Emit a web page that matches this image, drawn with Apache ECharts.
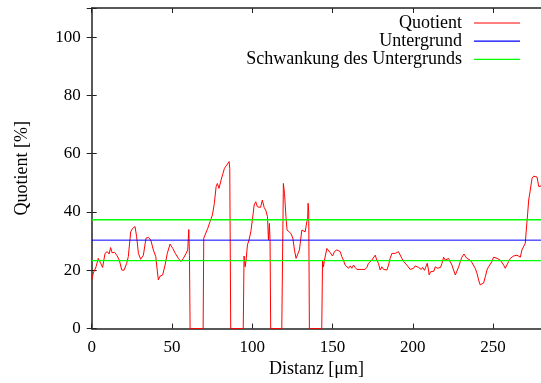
<!DOCTYPE html>
<html>
<head>
<meta charset="utf-8">
<script src="https://cdn.jsdelivr.net/npm/echarts@6/dist/echarts.min.js"></script>
<style>html,body{margin:0;padding:0;background:#fff;}#c{width:541px;height:383px;}</style>
</head>
<body>
<div id="c"></div>
<script>
// Quotient curve (distance in µm, quotient in %)
const distance = [0,1.0,2.7,4.1,5.6,6.8,8.3,9.7,10.8,11.8,12.7,14.2,15.6,17.2,18.7,20.1,21.8,22.8,24.3,25.5,27.0,28.0,29.1,30.5,32.2,33.8,35.3,36.8,38.4,39.9,41.5,42.6,44.2,45.7,47.1,48.8,50.5,52.1,54.0,55.5,57.1,58.8,59.8,60.5,60.9,61.3,
69.4,69.8,70.6,72.3,73.7,75.2,76.4,77.5,78.3,79.3,80.6,81.8,82.7,84.1,85.2,85.6,86.0,86.6,
94.4,94.9,95.6,96.2,97.0,98.0,99.1,100.1,101.2,102.2,103.2,104.2,105.2,106.3,107.4,108.5,109.5,110.1,110.7,111.1,111.5,
118.4,119.4,120.1,121.0,121.7,123.0,124.2,125.3,126.3,127.3,128.4,129.4,130.9,131.9,133.0,134.0,134.5,134.8,135.2,135.6,
143.3,143.8,144.4,145.0,146.5,147.5,148.6,150.0,151.2,152.7,153.7,154.8,155.8,156.8,157.9,158.9,160.0,161.0,162.0,163.1,164.1,165.2,166.2,168.3,170.3,171.4,172.4,173.5,174.5,175.5,176.6,177.6,178.6,179.7,180.7,181.8,182.8,183.9,184.9,185.9,187.0,188.0,189.1,190.1,191.1,192.2,193.2,194.3,195.3,196.3,197.4,198.4,200.5,201.5,
203.6,205.3,206.1,207.3,208.0,209.0,209.8,210.2,211.1,212.3,213.2,214.0,214.6,215.4,216.5,217.3,218.2,219.2,220.3,221.3,222.3,223.3,224.4,225.4,226.5,227.5,228.6,229.6,230.6,231.9,232.7,233.7,234.8,235.8,236.9,237.9,238.9,240.0,241.0,242.0,243.1,244.1,245.2,246.2,247.2,248.3,249.3,250.3,251.4,252.5,253.5,254.5,255.6,256.6,257.6,258.7,259.7,260.8,261.8,262.8,263.9,264.9,265.9,267.0,268.0,269.0,270.1,270.7,271.5,272.2,273.2,274.3,275.3,276.4,277.4,278.5,279.6,280];
const quotient = [16.7,19.0,21.2,24.1,22.4,21.0,25.8,26.4,25.6,27.8,26.0,26.2,25.2,23.5,20.1,20.0,22.4,24.7,33.2,34.4,35.0,31.5,25.8,23.8,25.2,31.0,31.3,30.4,27.0,24.7,16.7,18.0,18.4,21.8,25.8,29.0,27.5,25.8,24.1,23.0,24.1,25.8,27.0,34.0,25.0,0,
0,31.0,32.1,34.4,36.7,39.0,43.0,48.7,49.8,48.1,51.0,53.3,55.0,56.1,56.7,57.3,55.0,0,
0,24.9,21.2,23.5,28.7,30.4,33.2,37.3,42.4,43.5,41.8,42.2,41.6,44.1,41.6,40.5,38.4,30.4,36.1,30.0,0,
0,49.8,46.4,38.4,33.8,33.2,32.5,31.0,27.0,24.1,24.1,27.0,33.8,34.4,33.2,36.7,37.5,43.0,40.0,0,
0,23.5,21.2,23.5,27.5,27.0,26.0,24.9,26.4,27.0,27.2,26.4,24.7,23.5,21.8,21.2,20.7,21.5,20.7,21.8,21.0,20.3,20.1,20.3,20.3,21.0,22.4,22.4,23.5,24.1,25.2,23.5,22.4,20.1,21.2,20.3,20.7,20.1,21.8,24.1,25.8,25.8,25.8,25.6,26.4,25.8,24.1,23.0,22.7,21.8,21.2,20.3,20.7,21.5,
21.0,20.3,21.0,20.0,21.0,22.4,20.1,18.4,19.5,19.2,19.7,21.2,21.8,20.7,20.3,21.0,22.4,24.5,23.5,23.5,24.1,23.8,21.8,20.1,18.4,18.9,21.2,23.0,24.5,25.6,24.9,24.1,24.1,23.5,22.6,22.4,20.7,19.0,16.7,15.0,14.6,15.6,17.8,20.1,21.2,21.2,23.0,24.5,24.3,24.1,24.5,23.5,22.6,21.8,20.7,21.2,23.0,24.1,24.5,24.9,24.5,25.2,24.9,24.5,27.0,27.5,29.3,33.8,39.0,44.1,47.5,51.6,52.3,52.0,52.0,48.7,48.1,49.0];

const background = 30.35;     // Untergrund
const fluctuation = 7.0;      // Schwankung des Untergrunds
const xRange = [0, 280];
const yRange = [0, 110];
const xTicks = [0, 50, 100, 150, 200, 250];
const yTicks = [0, 20, 40, 60, 80, 100];
const names = ['Quotient', 'Untergrund', 'Schwankung des Untergrunds'];
const colors = ['#ff0000', '#0000ff', '#00ff00'];

const FONT = 'Liberation Serif';
const axisCol = '#222';

const qData = distance.map((d, i) => [d, quotient[i]]);
const hline = v => [[xRange[0], v], [xRange[1], v]];

const chart = echarts.init(document.getElementById('c'), null, {renderer: 'canvas'});
const baseAxis = {
  type: 'value',
  splitLine: {show: false},
  axisLine: {show: true, onZero: false, lineStyle: {color: axisCol, width: 1.5}},
  axisTick: {show: true, inside: true, length: 5, lineStyle: {color: axisCol, width: 1}}
};
chart.setOption({
  animation: false,
  backgroundColor: '#fff',
  grid: {left: 91.7, top: 8, width: 449.5, height: 320.6, containLabel: false, outerBoundsMode: 'none'},
  legend: {
    data: names.map((n, i) => ({name: n, icon: 'rect', itemStyle: {color: colors[i]}})),
    orient: 'vertical', right: 21, top: 14, align: 'right',
    itemWidth: 46, itemHeight: 1.2, itemGap: 0.2, padding: 0, selectedMode: false,
    textStyle: {fontFamily: FONT, fontSize: 18, color: '#000', lineHeight: 17, padding: [0, 7, 0, 0]}
  },
  xAxis: [
    Object.assign({}, baseAxis, {
      position: 'bottom', min: xRange[0], max: xRange[1], interval: 50,
      axisLabel: {margin: 10, fontFamily: FONT, fontSize: 17, color: '#000',
        formatter: v => xTicks.includes(v) ? String(v) : ''},
      name: 'Distanz [μm]', nameLocation: 'middle', nameGap: 32,
      nameTextStyle: {fontFamily: FONT, fontSize: 18, color: '#000'}
    }),
    Object.assign({}, baseAxis, {
      position: 'top', min: xRange[0], max: xRange[1], interval: 50,
      axisLabel: {show: false}
    })
  ],
  yAxis: [
    Object.assign({}, baseAxis, {
      position: 'left', min: yRange[0], max: yRange[1], interval: 20,
      axisLabel: {margin: 11, fontFamily: FONT, fontSize: 17, color: '#000',
        formatter: v => yTicks.includes(v) ? String(v) : ''},
      name: 'Quotient [%]', nameLocation: 'middle', nameGap: 60, nameRotate: 90,
      nameTextStyle: {fontFamily: FONT, fontSize: 18, color: '#000'}
    }),
    Object.assign({}, baseAxis, {
      position: 'right', min: yRange[0], max: yRange[1], interval: 20,
      axisLine: {show: false},
      axisLabel: {show: false}
    })
  ],
  series: [
    {name: names[0], type: 'line', data: qData, symbol: 'none', clip: true,
      lineStyle: {color: colors[0], width: 1}, itemStyle: {color: colors[0]}},
    {name: names[1], type: 'line', data: hline(background), symbol: 'none',
      lineStyle: {color: colors[1], width: 1}, itemStyle: {color: colors[1]}},
    {name: names[2], type: 'line', data: hline(background + fluctuation), symbol: 'none',
      lineStyle: {color: colors[2], width: 1.3}, itemStyle: {color: colors[2]}},
    {name: names[2], type: 'line', data: hline(background - fluctuation), symbol: 'none',
      lineStyle: {color: colors[2], width: 1.3}, itemStyle: {color: colors[2]}}
  ]
});
</script>
</body>
</html>
